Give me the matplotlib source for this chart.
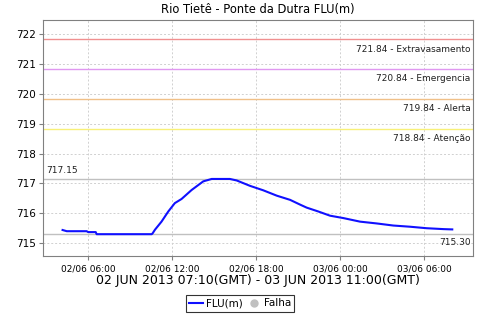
import pandas as pd
import matplotlib
matplotlib.use("Agg")
import matplotlib.pyplot as plt
import matplotlib.dates as mdates
from matplotlib.lines import Line2D

# horario local (GMT-3), leituras tiradas do grafico
tempos = ["2013-06-02 04:10", "2013-06-02 04:28", "2013-06-02 05:53", "2013-06-02 06:00",
          "2013-06-02 06:32", "2013-06-02 06:36", "2013-06-02 10:32", "2013-06-02 10:36",
          "2013-06-02 10:46", "2013-06-02 11:14", "2013-06-02 11:43", "2013-06-02 12:11",
          "2013-06-02 12:40", "2013-06-02 13:23", "2013-06-02 14:13", "2013-06-02 14:49",
          "2013-06-02 16:07", "2013-06-02 16:36", "2013-06-02 17:33", "2013-06-02 18:30",
          "2013-06-02 19:28", "2013-06-02 20:25", "2013-06-02 21:08", "2013-06-02 21:36",
          "2013-06-02 22:26", "2013-06-02 23:16", "2013-06-03 00:13", "2013-06-03 01:25",
          "2013-06-03 02:36", "2013-06-03 03:47", "2013-06-03 04:59", "2013-06-03 06:10",
          "2013-06-03 07:22", "2013-06-03 08:00"]
flu = [715.44, 715.40, 715.40, 715.37, 715.37, 715.30, 715.30, 715.33,
       715.45, 715.72, 716.06, 716.34, 716.48, 716.78, 717.07, 717.15,
       717.15, 717.10, 716.92, 716.77, 716.59, 716.45, 716.29, 716.19,
       716.06, 715.92, 715.84, 715.72, 715.66, 715.59, 715.55, 715.50,
       715.47, 715.46]

cotas = [721.84, 720.84, 719.84, 718.84]
nomes = ["Extravasamento", "Emergencia", "Alerta", "Atenção"]
cores = ["#f09090", "#e098f0", "#f0c088", "#f8f078"]
maximo = 717.15
minimo = 715.30

t = pd.to_datetime(tempos)

fig = plt.figure(figsize=(4.8, 3.2), dpi=100)
ax = fig.add_axes([0.090, 0.201, 0.895, 0.737])

ax.grid(True, color="#d0d0d0", linestyle=(0, (2, 2)), linewidth=0.7)
ax.set_axisbelow(True)

for c, n, cor in zip(cotas, nomes, cores):
    ax.axhline(c, color=cor, linewidth=1)
    ax.annotate("%.2f - %s" % (c, n), xy=(0.995, c), xycoords=("axes fraction", "data"),
                xytext=(0, -4), textcoords="offset points", ha="right", va="top",
                fontsize=6.5, color="#202020")

ax.axhline(maximo, color="#c0c0c0", linewidth=1)
ax.axhline(minimo, color="#c0c0c0", linewidth=1)
ax.annotate("%.2f" % maximo, xy=(0.007, maximo), xycoords=("axes fraction", "data"),
            xytext=(0, 3), textcoords="offset points", ha="left", va="bottom",
            fontsize=6.5, color="#202020")
ax.annotate("%.2f" % minimo, xy=(0.995, minimo), xycoords=("axes fraction", "data"),
            xytext=(0, -3), textcoords="offset points", ha="right", va="top",
            fontsize=6.5, color="#202020")

ax.plot(t, flu, color="#1010ff", linewidth=1.5)

ax.set_xlim(pd.Timestamp("2013-06-02 02:47"), pd.Timestamp("2013-06-03 09:28"))
ax.set_ylim(714.58, 722.48)
ax.set_yticks(range(715, 723))
ax.xaxis.set_major_locator(mdates.HourLocator(byhour=[0, 6, 12, 18]))
ax.xaxis.set_major_formatter(mdates.DateFormatter("%d/%m %H:%M"))

for s in ax.spines.values():
    s.set_color("#808080")
ax.tick_params(axis="y", labelsize=7.5, length=3, color="#808080", pad=2)
ax.tick_params(axis="x", labelsize=6.5, length=3, color="#808080", pad=3)

ax.set_title("Rio Tietê - Ponte da Dutra FLU(m)", fontsize=8.3, pad=5)
ax.set_xlabel("02 JUN 2013 07:10(GMT) - 03 JUN 2013 11:00(GMT)", fontsize=9, labelpad=1)

handles = [Line2D([], [], color="#1010ff", linewidth=1.5),
           Line2D([], [], color="#c0c0c0", marker="o", linestyle="none", markersize=5)]
leg = fig.legend(handles, ["FLU(m)", "Falha"], loc="lower center", bbox_to_anchor=(0.5, 0.01),
                 ncol=2, fontsize=7.5, frameon=True, fancybox=False, handlelength=1.4,
                 handletextpad=0.3, columnspacing=0.3, borderpad=0.3)
leg.get_frame().set_edgecolor("black")
leg.get_frame().set_linewidth(0.8)

fig.savefig("out.png", dpi=100)
